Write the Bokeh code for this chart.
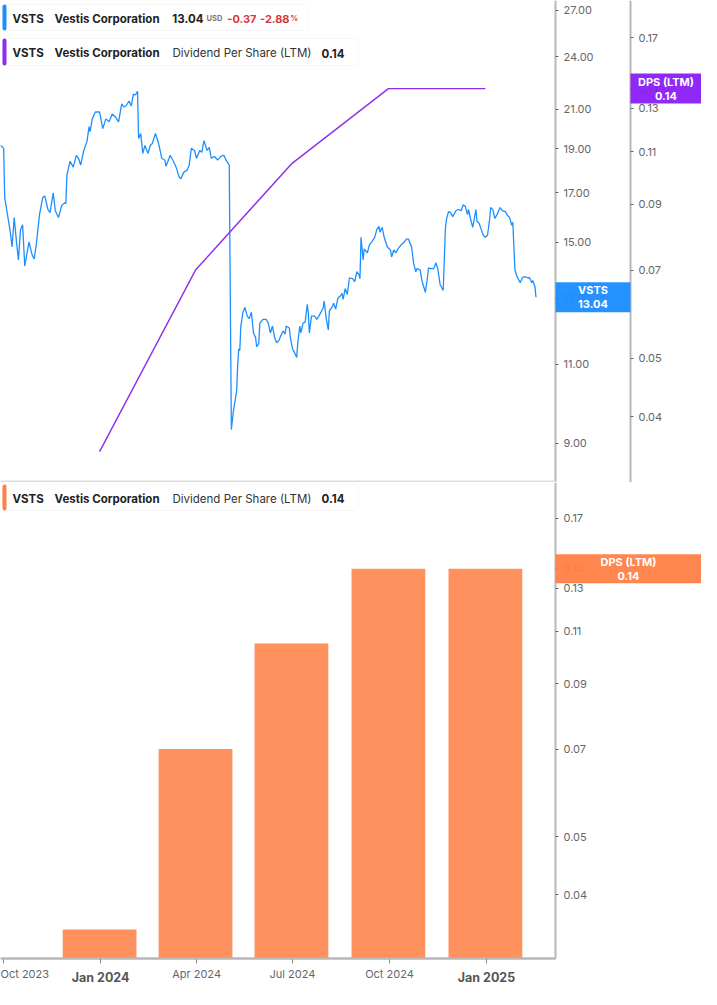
import math
import pandas as pd
from bokeh.plotting import figure
from bokeh.models import (Range1d, LogScale, LogAxis, DatetimeAxis, FixedTicker, PrintfTickFormatter,
                          Label, BoxAnnotation)
from bokeh.layouts import column
from bokeh.embed import file_html
from bokeh.resources import INLINE

# ---------------- data ----------------
ticker_symbol = "VSTS"
company = "Vestis Corporation"
metric_name = "Dividend Per Share (LTM)"
last_price = 13.04
price_change = -0.37
price_change_pct = -2.88
last_dps = 0.14

price_base_date = "2023-10-02"
price_day = [
    -4, -1, 0, 2, 5, 7, 9, 11, 13, 15,
    17, 19, 21, 23, 26, 28, 30, 33, 36, 38,
    41, 43, 46, 48, 51, 54, 57, 58, 59, 62,
    65, 68, 70, 72, 75, 78, 80, 81, 83, 86,
    90, 93, 96, 99, 102, 105, 108, 111, 113, 115,
    118, 120, 122, 124, 126, 127, 129, 131, 133, 136,
    138, 140, 143, 146, 149, 152, 153, 157, 160, 163,
    165, 167, 170, 173, 175, 177, 180, 182, 185, 187,
    189, 192, 194, 196, 199, 202, 205, 208, 210, 213,
    215, 217, 220, 221, 222, 223, 224, 226, 228, 230,
    232, 234, 236, 238, 239, 241, 242, 245, 248, 250,
    252, 254, 256, 258, 260, 263, 264, 266, 267, 270,
    271, 273, 275, 277, 278, 280, 281, 283, 285, 287,
    288, 289, 291, 294, 296, 298, 302, 303, 305, 307,
    308, 311, 312, 314, 316, 318, 320, 321, 323, 325,
    327, 330, 332, 334, 336, 337, 338, 340, 341, 344,
    346, 348, 351, 353, 355, 356, 358, 360, 363, 366,
    367, 369, 371, 373, 376, 379, 381, 383, 386, 388,
    390, 391, 394, 396, 398, 399, 401, 402, 404, 407,
    409, 411, 413, 415, 416, 418, 419, 421, 423, 425,
    428, 430, 433, 435, 437, 439, 440, 442, 444, 447,
    448, 450, 452, 454, 456, 458, 460, 461, 463, 465,
    467, 470, 472, 475, 477, 479, 481, 482, 484, 486,
    489, 491, 493, 496, 498, 500, 501, 503, 504,
]
price_close = [
    19.18, 19.02, 16.78, 16.24, 15.47, 14.81, 15.96, 15.07, 14.33, 15.47,
    15.67, 14.12, 14.55, 15.00, 14.52, 14.37, 14.92, 16.08, 16.78, 16.86,
    16.29, 16.16, 16.99, 16.24, 15.96, 16.45, 16.57, 16.53, 17.78, 18.41,
    18.14, 18.69, 18.55, 18.23, 18.92, 19.35, 20.10, 19.85, 20.50, 20.86,
    20.86, 20.00, 20.50, 20.35, 20.76, 20.60, 20.35, 21.29, 21.13, 21.18,
    21.45, 21.18, 21.83, 21.78, 21.99, 19.50, 19.75, 18.78, 19.16, 18.78,
    19.16, 19.26, 19.75, 19.26, 18.55, 18.46, 18.18, 18.69, 18.41, 18.09,
    17.74, 17.60, 17.91, 18.00, 18.23, 19.02, 18.92, 18.55, 18.92, 18.83,
    19.40, 18.92, 19.07, 18.55, 18.64, 18.46, 18.64, 18.69, 18.46, 18.23,
    9.32, 9.78, 10.28, 10.97, 11.44, 11.39, 12.12, 12.55, 12.71, 12.43,
    12.35, 12.55, 11.91, 11.77, 11.50, 11.59, 12.21, 12.33, 12.33, 12.21,
    11.91, 12.12, 11.77, 11.62, 11.68, 11.91, 11.97, 11.88, 12.12, 12.06,
    11.77, 11.44, 11.33, 11.19, 11.62, 12.12, 11.91, 12.21, 12.24, 12.81,
    12.53, 11.91, 12.43, 12.43, 12.33, 12.43, 12.68, 12.91, 12.35, 12.00,
    12.59, 12.75, 12.84, 12.65, 13.00, 13.07, 13.17, 12.97, 13.33, 13.13,
    13.70, 13.67, 13.57, 13.91, 13.81, 13.67, 15.18, 14.33, 14.74, 14.59,
    14.89, 15.00, 15.18, 15.49, 15.61, 15.38, 15.57, 15.18, 14.81, 14.70,
    14.44, 14.70, 14.59, 14.74, 14.89, 15.00, 15.11, 15.11, 14.81, 14.19,
    13.91, 14.02, 13.98, 13.57, 13.33, 13.20, 13.70, 14.05, 14.02, 14.02,
    14.23, 13.98, 13.47, 13.33, 13.27, 15.49, 15.88, 16.20, 16.16, 16.00,
    16.24, 16.29, 16.24, 16.49, 16.41, 16.08, 16.29, 15.88, 15.57, 16.29,
    15.80, 15.73, 15.49, 15.26, 15.18, 15.26, 15.88, 16.37, 16.29, 15.92,
    16.08, 16.37, 16.24, 16.20, 16.04, 15.96, 15.65, 15.77, 13.98, 13.74,
    13.53, 13.70, 13.74, 13.70, 13.70, 13.53, 13.60, 13.40, 13.04,
]

dps_dates = ["2023-12-31", "2024-03-31", "2024-06-30", "2024-09-30", "2024-12-31"]
dps_values = [0.035, 0.07, 0.105, 0.14, 0.14]

price_ticks = [9, 11, 13, 15, 17, 19, 21, 24, 27]
dps_ticks = [0.04, 0.05, 0.07, 0.09, 0.11, 0.13, 0.14, 0.17]
x_tick_dates = ["2023-10-01", "2024-01-01", "2024-04-01", "2024-07-01", "2024-10-01", "2025-01-01"]
x_tick_labels = ["Oct 2023", "Jan 2024", "Apr 2024", "Jul 2024", "Oct 2024", "Jan 2025"]
x_bold_ticks = ["Jan 2024", "Jan 2025"]

# ---------------- layout / styles ----------------
FONT = "Inter"
W = 701            # canvas / frame width
PLOT_W = 555       # width of the data area (price axis sits here)
PA_W = 75          # width of price axis band
H1 = 482           # top frame height
H2 = 507           # bottom frame height (includes x-axis band)
XAX_Y = 476        # x-axis line position from top of bottom frame
BLUE = "#1E8FFF"
PURPLE = "#8E2DEB"
ORANGE_BAR = "#FF915E"
ORANGE_BOX = "#FF7F45"
RED = "#D93636"

P_LO, P_HI = 8.15, 27.68
D1_LO, D1_HI = 0.0311, 0.196
D2_BASE, D2_HI = 0.0313, 0.195
D2_LO = math.exp(math.log(D2_BASE) - (H2 - XAX_Y) / XAX_Y * math.log(D2_HI / D2_BASE))

x_start = pd.Timestamp("2023-09-28")
days_per_px = 526.5 / PLOT_W
x_end = x_start + pd.Timedelta(days=W * days_per_px)


def px_ms(px):
    return (x_start + pd.Timedelta(days=px * days_per_px)).value / 1e6


def ypx(v, lo, hi, H):
    """screen y (from frame bottom) of a value on a log range"""
    return H * (math.log(v) - math.log(lo)) / (math.log(hi) - math.log(lo))


price_dates = pd.Timestamp(price_base_date) + pd.to_timedelta(price_day, unit="D")
dps_dt = pd.to_datetime(dps_dates)
x_range = Range1d(start=x_start, end=x_end)


def style_yaxis(ax):
    ax.axis_line_color = "#b8b8b8"
    ax.axis_line_width = 2
    ax.major_tick_in = 0
    ax.major_tick_out = 3
    ax.major_tick_line_color = "#666666"
    ax.minor_tick_line_color = None
    ax.major_label_text_font = FONT
    ax.major_label_text_font_size = "11px"
    ax.major_label_text_color = "#666666"
    ax.major_label_standoff = 5


def style_xaxis(ax, size, color, bold, standoff):
    ax.axis_line_color = "#b8b8b8"
    ax.axis_line_width = 2
    ax.major_tick_in = 0
    ax.major_tick_out = 5
    ax.major_tick_line_color = "#888888"
    ax.minor_tick_line_color = None
    ax.major_label_text_font = FONT
    ax.major_label_text_font_size = size
    ax.major_label_text_color = color
    ax.major_label_text_font_style = "bold" if bold else "normal"
    ax.major_label_standoff = standoff


def txt(p, x, y, s, size="11.5px", color="#222222", style="bold", align="left", baseline="alphabetic"):
    p.add_layout(Label(x=x, y=y, x_units="screen", y_units="screen", text=s, text_font=FONT,
                       text_font_size=size, text_color=color, text_font_style=style,
                       text_align=align, text_baseline=baseline))


def rect(p, left, right, bottom, top, fill, line=None, radius=0, alpha=1.0):
    p.add_layout(BoxAnnotation(left=left, right=right, bottom=bottom, top=top,
                               left_units="screen", right_units="screen",
                               bottom_units="screen", top_units="screen",
                               fill_color=fill, fill_alpha=alpha,
                               line_color=line if line else None, line_width=1,
                               border_radius=radius, level="annotation"))


def legend(p, H, top, width, height, color, pieces):
    rect(p, 2, 2 + width, H - top - height, H - top, "white", line="#e3e3e3", radius=4)
    rect(p, 2, 6, H - top - height, H - top, color, radius=2)
    base = H - (top + height / 2) - 1.2
    for x, s, size, col, style, align in pieces:
        txt(p, x, base, s, size=size, color=col, style=style, align=align)


def value_box(p, left, right, cy, h, fill, lines):
    rect(p, left, right, cy - h / 2, cy + h / 2, fill, alpha=0.95)
    p.add_layout(Label(x=(left + right) / 2, y=cy, x_units="screen", y_units="screen",
                       text="\n".join(lines), text_font=FONT, text_font_size="11px",
                       text_font_style="bold", text_color="white", text_align="center",
                       text_baseline="middle", text_line_height=1.0))


# ---------------- top figure ----------------
p1 = figure(frame_width=W, frame_height=H1, x_range=x_range, y_range=Range1d(P_LO, P_HI),
            x_axis_type="datetime", y_axis_type="log", y_axis_location=None, x_axis_location=None,
            output_backend="svg", toolbar_location=None, min_border=0,
            background_fill_color="white", border_fill_color="white", outline_line_color=None)
p1.grid.visible = False

pa = LogAxis(ticker=FixedTicker(ticks=price_ticks), formatter=PrintfTickFormatter(format="%.2f"),
             fixed_location=px_ms(PLOT_W))
style_yaxis(pa)
p1.add_layout(pa, "right")

p1.extra_y_ranges = {"dps": Range1d(D1_LO, D1_HI)}
p1.extra_y_scales = {"dps": LogScale()}
da = LogAxis(y_range_name="dps", ticker=FixedTicker(ticks=dps_ticks),
             formatter=PrintfTickFormatter(format="%.2f"), fixed_location=px_ms(PLOT_W + PA_W))
style_yaxis(da)
p1.add_layout(da, "right")

# separator between the panes
rect(p1, 0, PLOT_W, 0, 2, "#dddddd")

p1.line(price_dates, price_close, line_color=BLUE, line_width=1.3)
p1.line(dps_dt, dps_values, line_color=PURPLE, line_width=1.4, y_range_name="dps")

legend(p1, H1, 4, 306, 26, BLUE, [
    (12, ticker_symbol, "11.5px", "#222222", "bold", "left"),
    (54, company, "11.5px", "#222222", "bold", "left"),
    (203, f"{last_price:.2f}", "11.5px", "#222222", "bold", "right"),
    (206, "USD", "7.5px", "#777777", "bold", "left"),
    (256, f"{price_change:.2f}", "11px", RED, "bold", "right"),
    (289, f"{price_change_pct:.2f}", "11px", RED, "bold", "right"),
    (290, "%", "7.5px", RED, "bold", "left"),
])
legend(p1, H1, 38, 356, 27, PURPLE, [
    (12, ticker_symbol, "11.5px", "#222222", "bold", "left"),
    (54, company, "11.5px", "#222222", "bold", "left"),
    (172, metric_name, "11.5px", "#333333", "normal", "left"),
    (344, f"{last_dps:.2f}", "11.5px", "#222222", "bold", "right"),
])

value_box(p1, PLOT_W, PLOT_W + PA_W, ypx(last_price, P_LO, P_HI, H1), 30, "#1A8CFF",
          [ticker_symbol, f"{last_price:.2f}"])
value_box(p1, PLOT_W + PA_W, W, ypx(last_dps, D1_LO, D1_HI, H1), 30, "#8A1EF5",
          ["DPS (LTM)", f"{last_dps:.2f}"])

# ---------------- bottom figure ----------------
p2 = figure(frame_width=W, frame_height=H2, x_range=x_range, y_range=Range1d(D2_LO, D2_HI),
            x_axis_type="datetime", y_axis_type="log", y_axis_location=None, x_axis_location=None,
            output_backend="svg", toolbar_location=None, min_border=0,
            background_fill_color="white", border_fill_color="white", outline_line_color=None)
p2.grid.visible = False

p2.vbar(x=dps_dt, top=dps_values, bottom=D2_BASE, width=70 * 86400000, fill_color=ORANGE_BAR,
        line_color=None)

ya2 = LogAxis(ticker=FixedTicker(ticks=dps_ticks), formatter=PrintfTickFormatter(format="%.2f"),
              fixed_location=px_ms(PLOT_W), bounds=(D2_BASE, D2_HI))
style_yaxis(ya2)
p2.add_layout(ya2, "right")

tick_ms = [pd.Timestamp(d).value // 10**6 for d in x_tick_dates]
plain = [(t, lab) for t, lab in zip(tick_ms, x_tick_labels) if lab not in x_bold_ticks]
bold = [(t, lab) for t, lab in zip(tick_ms, x_tick_labels) if lab in x_bold_ticks]

xa2 = DatetimeAxis(ticker=FixedTicker(ticks=[t for t, _ in plain]), fixed_location=D2_BASE,
                   bounds=(px_ms(0), px_ms(PLOT_W)))
xa2.major_label_overrides = {t: lab for t, lab in plain}
style_xaxis(xa2, "11px", "#666666", False, 3)
p2.add_layout(xa2, "below")

xa3 = DatetimeAxis(ticker=FixedTicker(ticks=[t for t, _ in bold]), fixed_location=D2_BASE,
                   bounds=(px_ms(0), px_ms(PLOT_W)))
xa3.major_label_overrides = {t: lab for t, lab in bold}
style_xaxis(xa3, "12.5px", "#555555", True, 6)
p2.add_layout(xa3, "below")

legend(p2, H2, 2, 356, 26, ORANGE_BOX, [
    (12, ticker_symbol, "11.5px", "#222222", "bold", "left"),
    (54, company, "11.5px", "#222222", "bold", "left"),
    (172, metric_name, "11.5px", "#333333", "normal", "left"),
    (344, f"{last_dps:.2f}", "11.5px", "#222222", "bold", "right"),
])

value_box(p2, PLOT_W, W, ypx(last_dps, D2_LO, D2_HI, H2), 29, ORANGE_BOX,
          ["DPS (LTM)", f"{last_dps:.2f}"])

layout = column(p1, p2, spacing=0)
open("out.html", "w").write(file_html(layout, INLINE))
